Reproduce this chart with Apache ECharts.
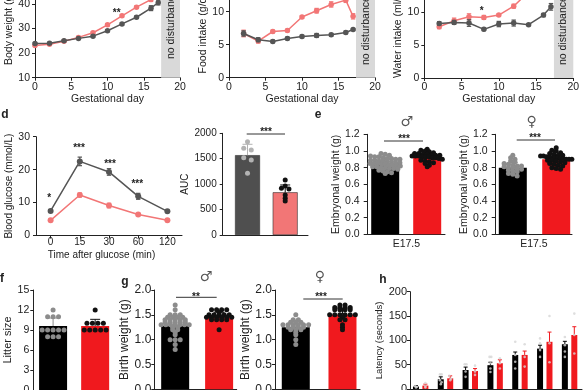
<!DOCTYPE html>
<html><head><meta charset="utf-8">
<script src="https://cdn.jsdelivr.net/npm/echarts@6/dist/echarts.min.js"></script>
<style>html,body{margin:0;padding:0;background:#fff}#c{width:585px;height:390px}</style>
</head><body><div id="c"></div>
<script>
// ---------------- DATA ----------------
const daysA = [0,2,4,6,8,10,12,14,16,17];
const bwCtrl = [23.9,24.0,25.0,26.0,26.9,29.1,31.9,34.6,38.3,40.6];
const bwCtrlSem = [0.4,0.4,0.4,0.4,0.4,0.4,0.5,0.5,1.0,1.0];
const bwTreat = [23.1,23.6,24.8,26.4,28.3,31.5,35.2,38.7,41.8,44.5];
const bwTreatSem = [0.4,0.4,0.4,0.4,0.5,0.5,0.5,0.5,0.8,1.0];

const daysBC = [2,4,6,8,10,12,14,16,17];
const foodCtrl = [6.7,5.75,5.5,5.95,6.25,6.4,6.5,6.85,7.3];
const foodCtrlSem = [0.4,0.3,0.2,0.2,0.2,0.3,0.2,0.2,0.15];
const foodTreat = [6.7,5.55,7.0,7.15,9.2,10.15,11.1,11.75,9.3];
const foodTreatSem = [0.5,0.3,0.2,0.2,0.2,0.35,0.4,0.35,0.4];

const waterCtrl = [8.25,8.4,8.3,7.35,8.15,8.3,8.05,9.5,10.75];
const waterCtrlSem = [0.25,0.3,0.5,0.2,0.4,0.45,0.15,0.25,0.5];
const waterTreat = [7.75,8.65,9.25,9.15,9.5,10.85,13.0,15.0,16.0];
const waterTreatSem = [0.3,0.4,0.45,0.3,0.2,0.3,0.4,0.5,0.5];

const glucoseTimes = ['0','15','30','60','120'];
const glucoseCtrl = [7.45,22.5,19.3,11.9,7.35];
const glucoseCtrlSem = [0.4,1.3,1.0,0.9,0.3];
const glucoseTreat = [4.6,12.3,9.1,6.4,4.6];
const glucoseTreatSem = [0.3,0.6,0.7,0.3,0.3];

const aucMean = [1570, 840];
const aucSd = [214, 144];
const aucCtrlPts = [1836,1705,1672,1521,1475,1213];
const aucTreatPts = [1082,964,918,905,787,721,669];

const embMaleMean = [0.84, 0.93];
const embMaleSd = [0.06, 0.05];
const embMaleCtrlPts = [0.97,0.96,0.95,0.94,0.93,0.93,0.92,0.91,0.91,0.90,0.90,0.89,0.89,0.88,0.88,0.87,0.87,0.86,0.86,0.85,0.85,0.85,0.84,0.84,0.83,0.83,0.82,0.82,0.81,0.81,0.80,0.80,0.79,0.79,0.78,0.77,0.76,0.75,0.74,0.73];
const embMaleTreatPts = [1.02,1.01,1.00,0.99,0.98,0.97,0.97,0.96,0.96,0.95,0.95,0.95,0.94,0.94,0.94,0.93,0.93,0.93,0.92,0.92,0.91,0.90,0.89,0.88,0.87,0.86,0.85,0.83,0.81];
const embFemaleMean = [0.80, 0.90];
const embFemaleSd = [0.06, 0.05];
const embFemaleCtrlPts = [0.95,0.92,0.90,0.88,0.87,0.85,0.84,0.83,0.82,0.82,0.81,0.80,0.80,0.79,0.78,0.77,0.76,0.75,0.73,0.72,0.70];
const embFemaleTreatPts = [1.04,1.01,1.00,0.98,0.97,0.96,0.95,0.95,0.94,0.94,0.93,0.93,0.92,0.92,0.92,0.91,0.91,0.90,0.90,0.90,0.89,0.89,0.88,0.87,0.86,0.85,0.84,0.83,0.82,0.80,0.79,0.78];

const litterMean = [9.6, 9.6];
const litterSd = [1.2, 1.0];
const litterCtrlPts = [12,11,11,11,9,9,9,9,9,8,8,8];
const litterTreatPts = [12,10,10,10,10,9,9,9,9,9];

const birthMaleMean = [1.28, 1.45];
const birthMaleSd = [0.2, 0.1];
const birthMaleCtrlPts = [1.7,1.6,1.5,1.5,1.5,1.45,1.45,1.45,1.45,1.4,1.4,1.4,1.4,1.4,1.35,1.35,1.35,1.35,1.35,1.3,1.3,1.3,1.3,1.3,1.3,1.3,1.25,1.25,1.2,1.2,1.15,1.1,1.0,1.0,1.0,0.9,0.8];
const birthMaleTreatPts = [1.6,1.6,1.6,1.6,1.55,1.5,1.5,1.5,1.5,1.5,1.45,1.45,1.45,1.45,1.45,1.45,1.4,1.4,1.4,1.4,1.2];
const birthFemaleMean = [1.25, 1.5];
const birthFemaleSd = [0.12, 0.13];
const birthFemaleCtrlPts = [1.5,1.4,1.4,1.35,1.35,1.35,1.3,1.3,1.3,1.3,1.3,1.3,1.25,1.25,1.25,1.25,1.2,1.2,1.2,1.15,1.1,1.0,0.9];
const birthFemaleTreatPts = [1.7,1.7,1.65,1.65,1.65,1.65,1.6,1.6,1.6,1.6,1.5,1.5,1.5,1.5,1.5,1.5,1.45,1.4,1.4,1.3,1.25,1.2];

const latencyCtrl = [5,20,39,49,70,83,92];
const latencyCtrlSem = [2,5,6,6,6,7,6];
const latencyTreat = [7,22,37,53,70,97,111];
const latencyTreatSem = [3,5,5,7,8,20,17];
const latencyCtrlPts = [[6,4,3],[30,30,18,14,10],[51,51,36,25],[66,66,53,42,35],[97,70,56,42],[104,94,80,66],[107,90,77,66]];
const latencyTreatPts = [[12,5,3],[27,21,18],[48,36,29],[63,53,42],[92,66,46],[150,94,55],[155,111,73]];

// ---------------- STYLE ----------------
const FF = 'Liberation Sans, Arial, sans-serif';
const INK = '#222';
const GREY = '#555555';
const SALMON = '#f27676';
const RED = '#f0191e';

const chart = echarts.init(document.getElementById('c'), null, {renderer: 'canvas'});

const grids = [
  [35, -20.6, 145, 98.3],      // 0 a
  [229, -21.3, 146, 99],       // 1 b
  [424.3, -21.3, 149, 99.3],   // 2 c
  [36, 136.7, 146, 98.8],      // 3 d glucose
  [222.7, 133.3, 85.3, 101.7], // 4 AUC
  [367.7, 134.3, 77.3, 100],   // 5 e male
  [495.7, 134.3, 76.3, 100],   // 6 e female
  [33.3, 290, 78.7, 100],      // 7 f
  [154.3, 290, 82.4, 99.3],    // 8 g male
  [275, 290, 85, 99.3],        // 9 g female
  [410, 291.7, 172, 97.3]      // 10 h
].map(g => ({left: g[0], top: g[1], width: g[2], height: g[3], containLabel: false, outerBoundsMode: 'none'}));

function axis(gi, type, o) {
  const fs = o.fs || 10.5;
  const a = {
    gridIndex: gi, type,
    splitLine: {show: false},
    axisLine: {show: true, onZero: false, lineStyle: {color: INK, width: 1}},
    axisTick: {show: o.tick !== false, length: o.tickLen || 3, alignWithLabel: true, lineStyle: {color: INK}},
    axisLabel: {show: o.label !== false, color: INK, fontSize: fs, margin: o.margin ?? 4, fontFamily: FF},
    name: o.name || '', nameLocation: 'middle', nameGap: o.nameGap || 15,
    nameTextStyle: {color: INK, fontSize: o.nfs || fs, fontFamily: FF, padding: o.npad || 0}
  };
  ['min','max','interval','data'].forEach(k => { if (o[k] !== undefined) a[k] = o[k]; });
  if (type === 'value') a.scale = false;
  return a;
}

const xAxes = [
  axis(0, 'value', {min: 0, max: 20, interval: 5, name: 'Gestational day', nameGap: 15, margin: 4}),
  axis(1, 'value', {min: 0, max: 20, interval: 5, name: 'Gestational day', nameGap: 15, margin: 4}),
  axis(2, 'value', {min: 0, max: 20, interval: 5, name: 'Gestational day', nameGap: 15, margin: 4}),
  axis(3, 'category', {data: glucoseTimes, name: 'Time after glucose (min)', nameGap: 15, margin: 2, npad: [0, 15, 0, 0], fs: 10}),
  axis(4, 'value', {min: -0.658, max: 1.605, tick: false, label: false}),
  axis(5, 'value', {min: -0.417, max: 1.424, tick: false, label: false, name: 'E17.5', nameGap: 4}),
  axis(6, 'value', {min: -0.394, max: 1.364, tick: false, label: false, name: 'E17.5', nameGap: 4}),
  axis(7, 'value', {min: -0.47, max: 1.4, tick: false, label: false}),
  axis(8, 'value', {min: -0.475, max: 1.4, tick: false, label: false}),
  axis(9, 'value', {min: -0.445, max: 1.375, tick: false, label: false}),
  axis(10, 'value', {min: -0.43, max: 6.5, tick: false, label: false})
];
const yAxes = [
  axis(0, 'value', {min: 10, max: 50, interval: 10, name: 'Body weight (g)', nameGap: 19, margin: 5}),
  axis(1, 'value', {min: 0, max: 15, interval: 5, name: 'Food intake (g/day)', nameGap: 15, margin: 5}),
  axis(2, 'value', {min: 0, max: 15, interval: 5, name: 'Water intake (ml/day)', nameGap: 15, margin: 5}),
  axis(3, 'value', {min: 0, max: 30, interval: 10, name: 'Blood glucose (mmol/L)', nameGap: 16, margin: 6, fs: 10.5, nfs: 10}),
  axis(4, 'value', {min: 0, max: 2000, interval: 500, name: 'AUC', nameGap: 30, margin: 6, fs: 10}),
  axis(5, 'value', {min: 0, max: 1.2, interval: 0.2, name: 'Embryonal weight (g)', nameGap: 25, margin: 8, tickLen: 4}),
  axis(6, 'value', {min: 0, max: 1.2, interval: 0.2, name: 'Embryonal weight (g)', nameGap: 25, margin: 8, tickLen: 4}),
  axis(7, 'value', {min: 0, max: 15, interval: 3, name: 'Litter size', nameGap: 14, margin: 4, fs: 10.5, nfs: 11}),
  axis(8, 'value', {min: 0, max: 2.0, interval: 0.5, name: 'Birth weight (g)', nameGap: 17, margin: 3, fs: 12}),
  axis(9, 'value', {min: 0, max: 2.0, interval: 0.5, name: 'Birth weight (g)', nameGap: 17, margin: 3, fs: 12}),
  axis(10, 'value', {min: 0, max: 200, interval: 50, name: 'Latency (seconds)', nameGap: 21, margin: 3, fs: 11, nfs: 9.5})
];
yAxes.forEach(a => { a.axisLabel.formatter = v => (a.interval < 1 ? v.toFixed(1) : String(v)); });

const series = [];

function errBars(gi, pts, color, capPx, upOnly, lw, z) {
  series.push({
    type: 'custom', xAxisIndex: gi, yAxisIndex: gi, z: z || 3, silent: true,
    data: pts,
    renderItem: (p, api) => {
      const a = api.coord([api.value(0), api.value(1)]);
      const b = api.coord([api.value(0), api.value(2)]);
      const st = {stroke: color, lineWidth: lw || 1};
      const ch = [
        {type: 'line', shape: {x1: a[0], y1: a[1], x2: b[0], y2: b[1]}, style: st},
        {type: 'line', shape: {x1: b[0] - capPx, y1: b[1], x2: b[0] + capPx, y2: b[1]}, style: st}
      ];
      if (!upOnly) ch.push({type: 'line', shape: {x1: a[0] - capPx, y1: a[1], x2: a[0] + capPx, y2: a[1]}, style: st});
      return {type: 'group', children: ch};
    }
  });
}

function linePanel(gi, xs, vals, sems, color, z, extra) {
  const isCat = !xs;
  const data = vals.map((v, i) => isCat ? v : [xs[i], v]);
  const s = {
    type: 'line', xAxisIndex: gi, yAxisIndex: gi, data, z: z,
    symbol: 'circle', symbolSize: 5.5, showSymbol: true, silent: true,
    lineStyle: {color, width: 1.5}, itemStyle: {color}, animation: false
  };
  Object.assign(s, extra || {});
  series.push(s);
  errBars(gi, vals.map((v, i) => [isCat ? i : xs[i], v - sems[i], v + sems[i]]), color, 2.2, false, 1.2, z);
}

const band = {silent: true, itemStyle: {color: '#d9d9d9'}, data: [[{xAxis: 17.4}, {xAxis: 20}]]};
linePanel(0, daysA, bwCtrl, bwCtrlSem, GREY, 4, {markArea: band});
linePanel(0, daysA, bwTreat, bwTreatSem, SALMON, 3);
linePanel(1, daysBC, foodCtrl, foodCtrlSem, GREY, 4, {markArea: band});
linePanel(1, daysBC, foodTreat, foodTreatSem, SALMON, 3);
linePanel(2, daysBC, waterCtrl, waterCtrlSem, GREY, 4, {markArea: band});
linePanel(2, daysBC, waterTreat, waterTreatSem, SALMON, 3);
linePanel(3, null, glucoseCtrl, glucoseCtrlSem, GREY, 4, {symbolSize: 6});
linePanel(3, null, glucoseTreat, glucoseTreatSem, SALMON, 3, {symbolSize: 6});

function swarm(vals, cx, bin, step, maxHalf) {
  const groups = new Map();
  vals.forEach(v => { const k = Math.round(v / bin); if (!groups.has(k)) groups.set(k, []); groups.get(k).push(v); });
  const out = [];
  groups.forEach(g => {
    const n = g.length;
    const s = n > 1 ? Math.min(step, 2 * maxHalf / (n - 1)) : 0;
    g.forEach((v, j) => out.push([cx + (j - (n - 1) / 2) * s, v]));
  });
  return out;
}

function barPanel(gi, means, sds, barColors, ptsList, dotColors, o) {
  series.push({
    type: 'bar', xAxisIndex: gi, yAxisIndex: gi, barWidth: o.barW, z: 2, silent: true,
    data: means.map((m, i) => ({value: [i, m], itemStyle: {color: barColors[i], borderColor: o.border || barColors[i], borderWidth: o.border ? 0.6 : 0}}))
  });
  means.forEach((m, i) => errBars(gi, [[i, m, m + sds[i]]], dotColors[i], 5, true, 1, 3));
  ptsList.forEach((pts, i) => {
    series.push({
      type: 'scatter', xAxisIndex: gi, yAxisIndex: gi, z: 4, silent: true,
      symbolSize: o.dot, itemStyle: {color: dotColors[i], opacity: 1},
      data: swarm(pts, i, o.bin, o.step, o.maxHalf)
    });
  });
}

barPanel(4, aucMean, aucSd, ['#4f4f4f', SALMON], [aucCtrlPts, aucTreatPts], ['#b3b3b3', '#111'],
  {barW: 25, dot: 5, bin: 60, step: 0.2, maxHalf: 0.3, border: '#333'});
barPanel(5, embMaleMean, embMaleSd, ['#000', RED], [embMaleCtrlPts, embMaleTreatPts], ['#8c8c8c', '#111'],
  {barW: 28, dot: 5, bin: 0.04, step: 0.1, maxHalf: 0.36});
barPanel(6, embFemaleMean, embFemaleSd, ['#000', RED], [embFemaleCtrlPts, embFemaleTreatPts], ['#8c8c8c', '#111'],
  {barW: 28, dot: 5, bin: 0.04, step: 0.1, maxHalf: 0.36});
barPanel(7, litterMean, litterSd, ['#000', RED], [litterCtrlPts, litterTreatPts], ['#8c8c8c', '#111'],
  {barW: 28, dot: 5, bin: 1, step: 0.13, maxHalf: 0.3});
barPanel(8, birthMaleMean, birthMaleSd, ['#000', RED], [birthMaleCtrlPts, birthMaleTreatPts], ['#8c8c8c', '#111'],
  {barW: 28, dot: 5, bin: 0.05, step: 0.115, maxHalf: 0.32});
barPanel(9, birthFemaleMean, birthFemaleSd, ['#000', RED], [birthFemaleCtrlPts, birthFemaleTreatPts], ['#8c8c8c', '#111'],
  {barW: 28, dot: 5, bin: 0.05, step: 0.11, maxHalf: 0.3});

// panel h
const pairOff = 0.19;
[[latencyCtrl, latencyCtrlSem, latencyCtrlPts, '#000', -1], [latencyTreat, latencyTreatSem, latencyTreatPts, RED, 1]].forEach(([m, e, pts, col, sgn]) => {
  series.push({
    type: 'bar', xAxisIndex: 10, yAxisIndex: 10, barWidth: 6, barGap: '-100%', z: 2, silent: true,
    itemStyle: {color: col}, data: m.map((v, i) => [i + sgn * pairOff, v])
  });
  errBars(10, m.map((v, i) => [i + sgn * pairOff, v, v + e[i]]), col, 2, true, 1, 3);
  series.push({
    type: 'scatter', xAxisIndex: 10, yAxisIndex: 10, z: 4, silent: true, symbolSize: 2.6,
    itemStyle: {color: '#d6d6d6'},
    data: pts.flatMap((arr, i) => swarm(arr, i + sgn * pairOff, 8, 0.07, 0.09))
  });
});

// ---------------- ANNOTATIONS ----------------
const g = [];
function txt(x, y, s, o) {
  g.push({type: 'text', x, y, z: 50, rotation: (o && o.rot) || 0, silent: true,
    style: {text: s, fill: (o && o.fill) || INK, font: (o && o.font) || ('10.5px ' + FF),
      align: (o && o.align) || 'center', verticalAlign: (o && o.va) || 'middle'}});
}
function star(x, y, s) { txt(x, y + 2.8, s, {font: 'bold 10px ' + FF}); }
function hline(x1, x2, y) {
  g.push({type: 'line', z: 50, silent: true, shape: {x1, y1: y, x2, y2: y}, style: {stroke: '#333', lineWidth: 1}});
}
// no disturbance
txt(171, 59, 'no disturbance', {rot: Math.PI / 2, align: 'left'});
txt(366, 65, 'no disturbance', {rot: Math.PI / 2, align: 'left'});
txt(563, 65, 'no disturbance', {rot: Math.PI / 2, align: 'left'});
// letters
txt(5, 115, 'd', {font: 'bold 12px ' + FF});
txt(318, 115, 'e', {font: 'bold 12px ' + FF});
txt(2, 279, 'f', {font: 'bold 12px ' + FF});
txt(125, 282, 'g', {font: 'bold 12px ' + FF});
txt(383, 280, 'h', {font: 'bold 12px ' + FF});
// stars
star(116.7, 10, '**');
star(481.7, 8.3, '*');
star(49.3, 195, '*');
star(79, 145, '***');
star(110, 161, '***');
star(137.3, 181, '***');
star(266, 129, '***'); hline(246.7, 285, 134);
star(404, 136, '***'); hline(384, 423, 141);
star(535, 135.5, '***'); hline(516.7, 555, 140);
star(196, 294, '**'); hline(176, 216.7, 297.3);
star(321, 294.5, '***'); hline(303.3, 342.7, 299);
// sex symbols
txt(406.7, 122, '♂', {font: '14px DejaVu Sans', fill: '#555'});
txt(531.7, 122, '♀', {font: '14px DejaVu Sans', fill: '#555'});
txt(206, 277.5, '♂', {font: '14px DejaVu Sans', fill: '#555'});
txt(320, 277, '♀', {font: '14px DejaVu Sans', fill: '#555'});

chart.setOption({
  animation: false,
  backgroundColor: '#fff',
  textStyle: {fontFamily: FF},
  grid: grids, xAxis: xAxes, yAxis: yAxes, series, graphic: g
});
</script></body></html>
